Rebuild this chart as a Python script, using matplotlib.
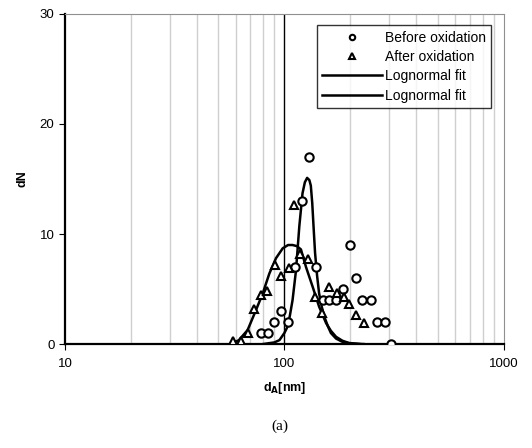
import numpy as np
import matplotlib.pyplot as plt
from matplotlib.ticker import FixedLocator, NullFormatter

plt.rcParams['font.family'] = ['Liberation Sans', 'DejaVu Sans']

# before oxidation (circles)
before_d = [78, 84, 90, 96.6, 104, 112, 120, 129, 139, 150, 160, 172, 185,
            199, 212, 227, 247, 264, 286, 305]
before_n = [1, 1, 2, 3, 2, 7, 13, 17, 7, 4, 4, 4, 5, 9, 6, 4, 4, 2, 2, 0]

# after oxidation (triangles)
after_d = [58.6, 63.3, 68, 72.5, 78.3, 83.5, 90.5, 96.6, 104.5, 111, 118,
           128, 137.5, 148, 160, 173, 187, 198, 212, 230]
after_n = [0.3, 0.3, 1.0, 3.2, 4.5, 4.8, 7.2, 6.2, 6.9, 12.6, 8.2, 7.7,
           4.3, 2.8, 5.2, 4.6, 4.3, 3.6, 2.6, 1.9]

# lognormal fits
fit1_d = [80, 90, 95, 100, 103.5, 106, 109, 113, 117, 121, 124, 127, 130,
          132, 134, 136, 138, 141, 144, 148, 152, 158, 163, 172, 184, 200, 230]
fit1_n = [0.0, 0.15, 0.36, 1.0, 1.6, 2.6, 4.0, 6.7, 10.7, 13.7, 14.7, 15.1,
          14.9, 14.4, 12.8, 10.5, 8.3, 6.2, 4.6, 3.4, 2.5, 1.6, 1.0, 0.5, 0.2,
          0.05, 0.0]

fit2_d = [57, 62, 68, 74.3, 79.7, 85.4, 91.6, 98.3, 104, 109, 114, 119,
          125.5, 134.6, 144, 155, 163, 172, 184, 197, 220]
fit2_n = [0.0, 0.35, 1.27, 3.1, 4.6, 6.4, 7.8, 8.7, 9.0, 9.0, 8.9, 8.6,
          7.0, 5.2, 3.4, 1.9, 1.2, 0.66, 0.3, 0.1, 0.0]

fig = plt.figure(figsize=(5.32, 4.48), dpi=100)
ax = fig.add_axes([0.122, 0.232, 0.825, 0.737])

ax.set_xscale('log')
ax.set_xlim(10, 1000)
ax.set_ylim(0, 30)

minor = [m * 10 ** e for e in (1, 2) for m in range(2, 10)]
ax.xaxis.set_minor_locator(FixedLocator(minor))
ax.xaxis.set_minor_formatter(NullFormatter())
ax.set_xticks([10, 100, 1000])
ax.set_xticklabels(['10', '100', '1000'])
ax.set_yticks([0, 10, 20, 30])

for v in minor:
    ax.axvline(v, color='#cfcfcf', lw=1.0, zorder=0)
ax.axvline(100, color='black', lw=1.0, zorder=0)

ax.plot(before_d, before_n, 'o', mfc='white', mec='black', mew=1.5, ms=6,
        label='Before oxidation', zorder=3)
ax.plot(after_d, after_n, '^', mfc='white', mec='black', mew=1.5, ms=6,
        label='After oxidation', zorder=3)
ax.plot(fit1_d, fit1_n, '-', color='black', lw=1.8, label='Lognormal fit',
        zorder=2)
ax.plot(fit2_d, fit2_n, '-', color='black', lw=1.8, label='Lognormal fit',
        zorder=2)

for s in ('top', 'right'):
    ax.spines[s].set_color('#909090')
for s in ('left', 'bottom'):
    ax.spines[s].set_linewidth(1.6)

ax.tick_params(axis='both', which='major', direction='out', length=4,
               labelsize=9.5)
ax.tick_params(axis='x', which='minor', length=0)
ax.tick_params(axis='x', which='major', pad=6)

ax.set_ylabel('dN', fontsize=9, fontweight='bold', labelpad=8)
ax.set_xlabel(r'd$_\mathbf{A}$[nm]', fontsize=9, fontweight='bold', labelpad=7)

leg = ax.legend(loc='upper right', bbox_to_anchor=(0.987, 0.987), fontsize=10,
                frameon=True, fancybox=False, edgecolor='black',
                handlelength=4.3, handletextpad=0.2, borderpad=0.4,
                labelspacing=0.38, markerscale=0.65)
leg.get_frame().set_linewidth(1.0)

fig.text(0.526, 0.04, '(a)', fontsize=11, family='Liberation Serif',
         ha='center')

fig.savefig('out.png', dpi=100)
